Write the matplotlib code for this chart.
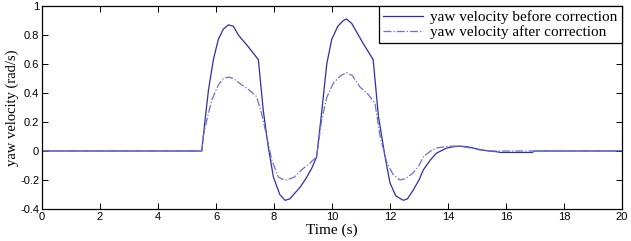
import matplotlib
matplotlib.use("Agg")
import matplotlib.pyplot as plt

# yaw velocity before correction (solid)
t_before = [0, 5.51, 5.62, 5.74, 5.91, 6.08, 6.25, 6.43, 6.6, 6.77, 7.11, 7.46,
            7.63, 7.8, 7.98, 8.2, 8.38, 8.55, 8.72, 8.9, 9.1, 9.3, 9.47,
            9.64, 9.82, 9.99, 10.2, 10.39, 10.5, 10.68, 11.08, 11.42,
            11.6, 11.83, 12.0, 12.2, 12.46, 12.6, 12.8, 13.0, 13.15, 13.4, 13.6,
            13.95, 14.2, 14.41, 14.7, 15.1, 15.4, 15.68, 15.8, 16.4, 16.9, 17.0, 20]
v_before = [0, 0, 0.21, 0.42, 0.63, 0.77, 0.84, 0.87, 0.86, 0.80, 0.72, 0.63,
            0.28, 0.03, -0.18, -0.30, -0.34, -0.33, -0.29, -0.25, -0.19, -0.12, -0.04,
            0.26, 0.60, 0.77, 0.86, 0.90, 0.91, 0.88, 0.74, 0.63,
            0.24, -0.04, -0.22, -0.31, -0.34, -0.33, -0.27, -0.20, -0.13, -0.06, -0.015,
            0.02, 0.03, 0.034, 0.028, 0.01, 0.0, -0.005, -0.01, -0.01, -0.01, 0, 0]

# yaw velocity after correction (dash-dot)
t_after = [0, 5.51, 5.56, 5.68, 5.85, 6.08, 6.25, 6.43, 6.6, 6.89, 7.15, 7.4,
           7.57, 7.75, 7.92, 8.15, 8.3, 8.44, 8.7, 8.95, 9.2, 9.47,
           9.64, 9.82, 10.05, 10.3, 10.51, 10.7, 10.97, 11.25, 11.48,
           11.66, 11.89, 12.1, 12.34, 12.55, 12.8, 13.0, 13.15, 13.4, 13.6,
           13.9, 14.2, 14.5, 14.8, 15.1, 15.5, 16.0, 17.0, 20]
v_after = [0, 0, 0.10, 0.21, 0.35, 0.455, 0.50, 0.51, 0.50, 0.455, 0.42, 0.375,
           0.26, 0.10, -0.06, -0.18, -0.195, -0.20, -0.18, -0.13, -0.09, -0.04,
           0.21, 0.37, 0.47, 0.52, 0.54, 0.52, 0.44, 0.39, 0.33,
           0.10, -0.08, -0.16, -0.20, -0.19, -0.15, -0.10, -0.04, 0.0, 0.02,
           0.03, 0.034, 0.03, 0.02, 0.007, 0.0, 0.0, 0, 0]

x_ticks = [0, 2, 4, 6, 8, 10, 12, 14, 16, 18, 20]
y_ticks = [-0.4, -0.2, 0, 0.2, 0.4, 0.6, 0.8, 1]
y_tick_labels = ["-0.4", "-0.2", "0", "0.2", "0.4", "0.6", "0.8", "1"]

fig = plt.figure(figsize=(6.31, 2.41), dpi=100)
ax = fig.add_axes([42/631, 1-209/241, (622-42)/631, (209-6)/241])

ax.plot(t_before, v_before, color="#2e2ea8", lw=0.9, ls="-",
        label="yaw velocity before correction")
ax.plot(t_after, v_after, color="#6f6fcf", lw=0.9, ls="-.",
        label="yaw velocity after correction")

ax.set_xlim(0, 20)
ax.set_ylim(-0.4, 1)
ax.set_xticks(x_ticks)
ax.set_xticklabels([str(v) for v in x_ticks], fontfamily="Liberation Sans", fontsize=8)
ax.set_yticks(y_ticks)
ax.set_yticklabels(y_tick_labels, fontfamily="Liberation Sans", fontsize=8)
ax.tick_params(direction="in", top=True, right=True, length=4, width=0.7, pad=2)
for s in ax.spines.values():
    s.set_linewidth(0.9)

ax.set_xlabel("Time (s)", fontfamily="Liberation Serif", fontsize=11, labelpad=1)
ax.set_ylabel("yaw velocity (rad/s)", fontfamily="Liberation Serif", fontsize=10.5, labelpad=1)

leg = ax.legend(loc="upper right", borderaxespad=0, fancybox=False,
                prop={"family": "Liberation Serif", "size": 11},
                handlelength=2.6, handletextpad=0.45, borderpad=0.3,
                labelspacing=0.05, framealpha=1)
leg.get_frame().set_edgecolor("black")
leg.get_frame().set_linewidth(0.9)

fig.savefig("out.png", dpi=100)
